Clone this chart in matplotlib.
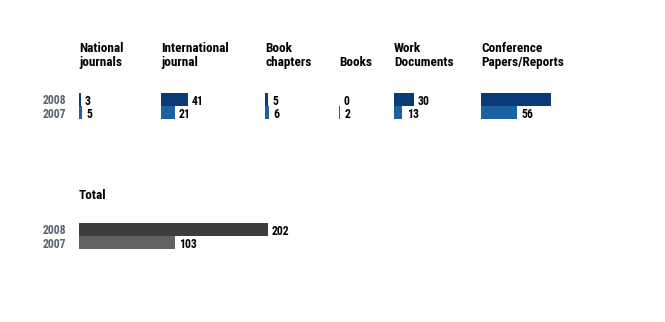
import matplotlib
matplotlib.use("Agg")
import matplotlib.pyplot as plt

plt.rcParams['font.family'] = ['Roboto Condensed', 'DejaVu Sans']
plt.rcParams['font.weight'] = 'bold'

years = ["2008", "2007"]
categories = ["National\njournals", "International\njournal", "Book\nchapters",
              "Books", "Work\nDocuments", "Conference\nPapers/Reports"]
values_2008 = [3, 41, 5, 0, 30, 123]
values_2007 = [5, 21, 6, 2, 13, 56]
total_2008 = 202
total_2007 = 103

W, H = 665, 322
PX_PER_UNIT = 0.65
TOTAL_PX_PER_UNIT = 0.935
panel_left = [79, 161, 265, 339, 394, 481]
blue_colors = ["#0b3a78", "#1a62a2"]
gray_colors = ["#3d3d3d", "#626262"]
year_color = "#5a6472"


def add_panel(fig, left, top, width, scale, vals, colors, title=None, show_years=False):
    """Add a small two-bar panel; positions are given in pixels from the top-left."""
    ax = fig.add_axes([left / W, 1 - (top + 26) / H, width / W, 26 / H])
    ax.barh([0, 1], vals, height=1.0, color=colors, align='center')
    ax.set_xlim(0, width / scale)
    ax.set_ylim(1.5, -0.5)
    for y, v in enumerate(vals):
        ax.annotate(str(v), (v, y), xytext=(3, -1.2), textcoords='offset points',
                    ha='left', va='center', fontsize=8.5, color='black')
    for s in ax.spines.values():
        s.set_visible(False)
    ax.set_xticks([])
    if show_years:
        ax.set_yticks([0, 1])
        ax.set_yticklabels(years, fontsize=8.5, color=year_color)
        ax.tick_params(axis='y', length=0, pad=9)
    else:
        ax.set_yticks([])
    ax.patch.set_alpha(0)
    if title:
        fig.text(left / W, 1 - 69 / H, title, ha='left', va='bottom',
                 fontsize=9.5, color='black', linespacing=1.15)
    return ax


fig = plt.figure(figsize=(W / 100, H / 100), dpi=100)

for i, cat in enumerate(categories):
    add_panel(fig, panel_left[i], 93, 70, PX_PER_UNIT,
              [values_2008[i], values_2007[i]], blue_colors,
              title=cat, show_years=(i == 0))

add_panel(fig, 79, 223, 250, TOTAL_PX_PER_UNIT,
          [total_2008, total_2007], gray_colors, show_years=True)
fig.text(79 / W, 1 - 202 / H, "Total", ha='left', va='bottom', fontsize=9.5, color='black')

fig.savefig("out.png", dpi=100, facecolor='white')
